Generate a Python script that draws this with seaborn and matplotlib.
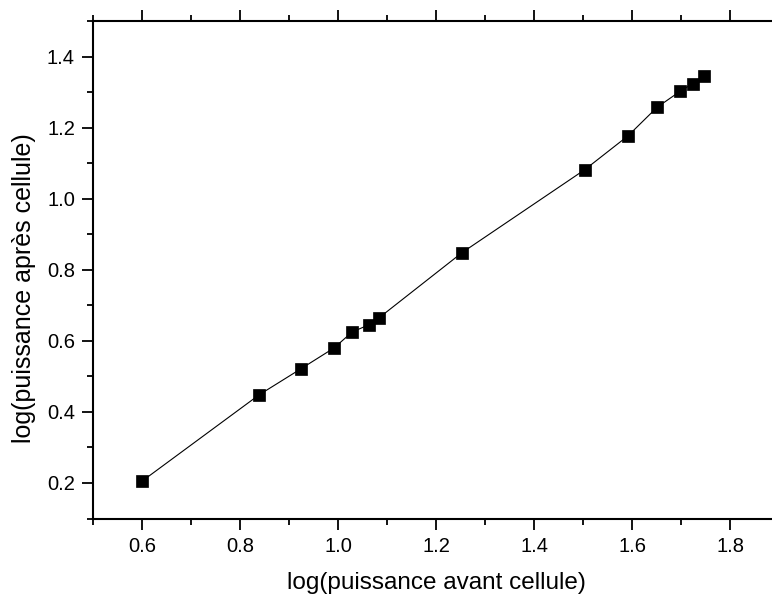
import pandas as pd
import matplotlib
matplotlib.use('Agg')
import matplotlib.pyplot as plt
from matplotlib.ticker import MultipleLocator
import seaborn as sns

# Data
log_avant = [0.600, 0.839, 0.924, 0.992, 1.029, 1.063, 1.084,
             1.253, 1.504, 1.592, 1.651, 1.698, 1.724, 1.747]
log_apres = [0.205, 0.448, 0.521, 0.580, 0.625, 0.645, 0.665,
             0.848, 1.082, 1.177, 1.257, 1.302, 1.324, 1.344]

df = pd.DataFrame({'avant': log_avant, 'apres': log_apres})

sns.set_style('ticks')
plt.rcParams['font.family'] = ['Liberation Sans', 'DejaVu Sans']

fig = plt.figure(figsize=(7.72, 5.95), dpi=100)
ax = fig.add_axes([93 / 772, 76.5 / 595, 686 / 772, 497.5 / 595])

sns.lineplot(data=df, x='avant', y='apres', ax=ax, sort=False,
             color='black', linewidth=0.8, marker='s', markersize=8,
             markeredgecolor='black', markeredgewidth=0.5)

ax.set_xlim(0.5, 1.9)
ax.set_ylim(0.1, 1.5)
ax.xaxis.set_minor_locator(MultipleLocator(0.1))
ax.yaxis.set_minor_locator(MultipleLocator(0.1))
ax.set_xticks([0.6, 0.8, 1.0, 1.2, 1.4, 1.6, 1.8])
ax.set_yticks([0.2, 0.4, 0.6, 0.8, 1.0, 1.2, 1.4])
ax.xaxis.set_major_formatter(plt.FuncFormatter(lambda v, p: f'{v:.1f}'))
ax.yaxis.set_major_formatter(plt.FuncFormatter(lambda v, p: f'{v:.1f}'))

for side in ['left', 'bottom', 'top', 'right']:
    ax.spines[side].set_visible(True)
    ax.spines[side].set_linewidth(1.5)
    ax.spines[side].set_color('black')

ax.tick_params(which='both', direction='out', top=True, labeltop=False,
               right=False, width=1.3, colors='black', labelsize=14.5)
ax.tick_params(which='major', length=8, pad=5)
ax.tick_params(which='minor', length=4)

ax.set_xlabel('log(puissance avant cellule)', fontsize=17.5, labelpad=12,
              color='black')
ax.set_ylabel('log(puissance après cellule)', fontsize=18, color='black')
ax.yaxis.set_label_coords(-0.083, 0.463)

fig.savefig('out.png', dpi=100)
